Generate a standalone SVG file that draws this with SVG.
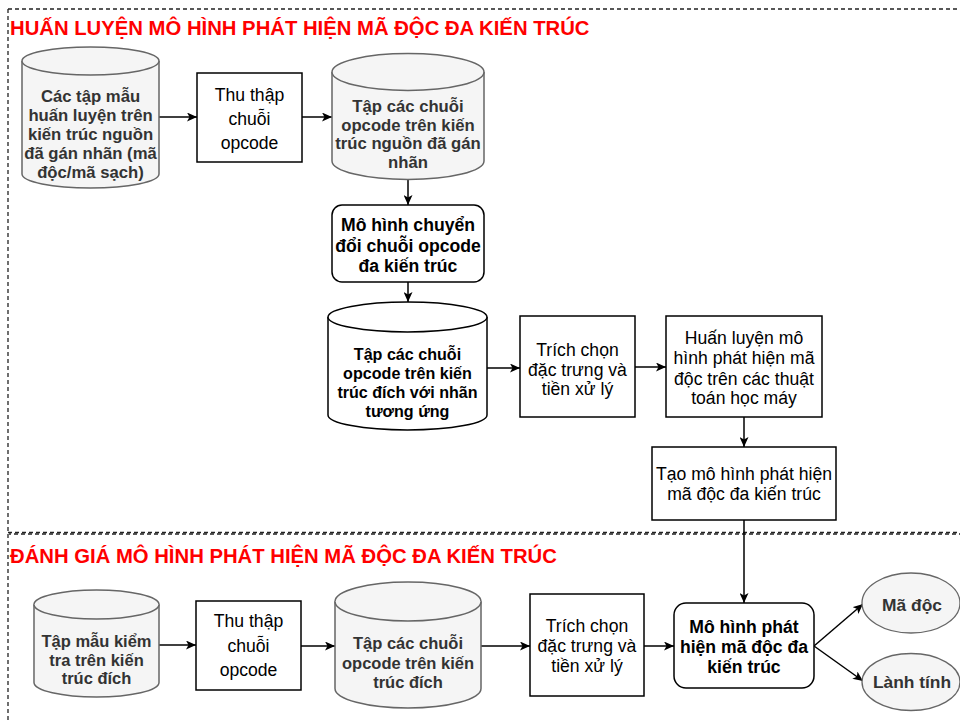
<svg xmlns="http://www.w3.org/2000/svg" width="960" height="722" viewBox="0 0 960 722">
<defs>
<style>
text{font-family:"Liberation Sans",Arial,"Noto Sans",sans-serif;text-anchor:middle}
.t{font-size:17.6px;fill:#000}
.b{font-weight:bold;fill:#000}
.g{font-weight:bold;fill:#333333}
.title{font-size:20.3px;font-weight:bold;fill:#ff0000;text-anchor:start}
.box{fill:#ffffff;stroke:#000;stroke-width:1.5}
.cyl{fill:#f5f5f5;stroke:#666666;stroke-width:1.5}
.cylw{fill:#ffffff;stroke:#000;stroke-width:1.5}
.ell{fill:#f5f5f5;stroke:#666666;stroke-width:1.3}
.frame{fill:none;stroke:#222;stroke-width:1.3;stroke-dasharray:4 3}
.c{fill:none;stroke:#000;stroke-width:1.5;marker-end:url(#arr)}
</style>
<marker id="arr" markerWidth="11" markerHeight="9" refX="10" refY="4.5" orient="auto" markerUnits="userSpaceOnUse">
<path d="M0,0 L10,4.5 L0,9 L2.5,4.5 Z" fill="#000"/>
</marker>
</defs>

<g id="frame">
<line class="frame" x1="8" y1="9" x2="960" y2="9"/>
<line class="frame" x1="8" y1="9" x2="8" y2="722"/>
<line class="frame" x1="8" y1="532.5" x2="960" y2="532.5"/>
<line class="frame" x1="9" y1="534" x2="960" y2="534" style="stroke-dashoffset:2"/>
</g>

<g id="title-train"><text class="title" x="10" y="35">HUẤN LUYỆN MÔ HÌNH PHÁT HIỆN MÃ ĐỘC ĐA KIẾN TRÚC</text></g>
<g id="title-eval"><text class="title" x="10" y="563">ĐÁNH GIÁ MÔ HÌNH PHÁT HIỆN MÃ ĐỘC ĐA KIẾN TRÚC</text></g>

<g id="connectors">
<line class="c" x1="159" y1="117" x2="197" y2="117"/>
<line class="c" x1="302" y1="117" x2="332" y2="117"/>
<line class="c" x1="408" y1="180" x2="408" y2="205"/>
<line class="c" x1="408" y1="282" x2="408" y2="302"/>
<line class="c" x1="487" y1="368" x2="520" y2="368"/>
<line class="c" x1="635" y1="367" x2="666" y2="367"/>
<line class="c" x1="744" y1="417" x2="744" y2="447"/>
<line class="c" x1="744" y1="520" x2="744" y2="603"/>
<line class="c" x1="159" y1="645" x2="196" y2="645"/>
<line class="c" x1="301" y1="646" x2="335" y2="646"/>
<line class="c" x1="481" y1="646" x2="530" y2="646"/>
<line class="c" x1="644" y1="646" x2="674" y2="646"/>
<line class="c" x1="814" y1="646" x2="863" y2="604"/>
<line class="c" x1="814" y1="646" x2="863" y2="681"/>
</g>

<g id="train-samples">
<path class="cyl" d="M22,61 A68.5,14 0 0 1 159,61 L159,174 A68.5,14 0 0 1 22,174 Z"/>
<path class="cyl" d="M22,61 A68.5,14 0 0 0 159,61" fill="none"/>
<text class="g" font-size="16.7" x="90.5" y="102">Các tập mẫu</text>
<text class="g" font-size="16.7" x="90.5" y="121">huấn luyện trên</text>
<text class="g" font-size="16.7" x="90.5" y="140">kiến trúc nguồn</text>
<text class="g" font-size="16.7" x="90.5" y="159">đã gán nhãn (mã</text>
<text class="g" font-size="16.7" x="90.5" y="178">độc/mã sạch)</text>
</g>

<g id="collect-train">
<rect class="box" x="197" y="73" width="105" height="89"/>
<text class="t" x="249.5" y="101">Thu thập</text>
<text class="t" x="249.5" y="125">chuỗi</text>
<text class="t" x="249.5" y="149">opcode</text>
</g>

<g id="source-opcodes">
<path class="cyl" d="M332,72 A76,18.5 0 0 1 484,72 L484,161 A76,18.5 0 0 1 332,161 Z"/>
<path class="cyl" d="M332,72 A76,18.5 0 0 0 484,72" fill="none"/>
<text class="g" font-size="16.7" x="408" y="112">Tập các chuỗi</text>
<text class="g" font-size="16.7" x="408" y="130.5">opcode trên kiến</text>
<text class="g" font-size="16.7" x="408" y="149">trúc nguồn đã gán</text>
<text class="g" font-size="16.7" x="408" y="167.5">nhãn</text>
</g>

<g id="translate-model">
<rect class="box" x="332" y="205" width="152" height="77" rx="10"/>
<text class="b" font-size="17.6" x="408" y="231">Mô hình chuyển</text>
<text class="b" font-size="17.6" x="408" y="251.5">đổi chuỗi opcode</text>
<text class="b" font-size="17.6" x="408" y="272">đa kiến trúc</text>
</g>

<g id="target-opcodes">
<path class="cylw" d="M328,317 A79.5,15 0 0 1 487,317 L487,415 A79.5,15 0 0 1 328,415 Z"/>
<path class="cylw" d="M328,317 A79.5,15 0 0 0 487,317" fill="none"/>
<text class="b" font-size="16.1" x="407.5" y="360">Tập các chuỗi</text>
<text class="b" font-size="16.1" x="407.5" y="379">opcode trên kiến</text>
<text class="b" font-size="16.1" x="407.5" y="398">trúc đích với nhãn</text>
<text class="b" font-size="16.1" x="407.5" y="417">tương ứng</text>
</g>

<g id="feature-train">
<rect class="box" x="520" y="316" width="115" height="101"/>
<text class="t" x="577.5" y="356">Trích chọn</text>
<text class="t" x="577.5" y="375.5">đặc trưng và</text>
<text class="t" x="577.5" y="395">tiền xử lý</text>
</g>

<g id="train-ml">
<rect class="box" x="666" y="316" width="156" height="101"/>
<text class="t" x="744" y="344">Huấn luyện mô</text>
<text class="t" x="744" y="364">hình phát hiện mã</text>
<text class="t" x="744" y="384.5">độc trên các thuật</text>
<text class="t" x="744" y="404">toán học máy</text>
</g>

<g id="create-model">
<rect class="box" x="652" y="447" width="184" height="73"/>
<text class="t" x="744" y="480">Tạo mô hình phát hiện</text>
<text class="t" x="744" y="500">mã độc đa kiến trúc</text>
</g>

<g id="test-samples">
<path class="cyl" d="M34,604.5 A62.5,14.5 0 0 1 159,604.5 L159,682.5 A62.5,14.5 0 0 1 34,682.5 Z"/>
<path class="cyl" d="M34,604.5 A62.5,14.5 0 0 0 159,604.5" fill="none"/>
<text class="g" font-size="16.5" x="96.5" y="647">Tập mẫu kiểm</text>
<text class="g" font-size="16.5" x="96.5" y="665.5">tra trên kiến</text>
<text class="g" font-size="16.5" x="96.5" y="684">trúc đích</text>
</g>

<g id="collect-eval">
<rect class="box" x="196" y="601" width="105" height="89"/>
<text class="t" x="248.5" y="627">Thu thập</text>
<text class="t" x="248.5" y="652">chuỗi</text>
<text class="t" x="248.5" y="676">opcode</text>
</g>

<g id="eval-opcodes">
<path class="cyl" d="M335,601.5 A73,19.5 0 0 1 481,601.5 L481,688.5 A73,19.5 0 0 1 335,688.5 Z"/>
<path class="cyl" d="M335,601.5 A73,19.5 0 0 0 481,601.5" fill="none"/>
<text class="g" font-size="16.5" x="408" y="649">Tập các chuỗi</text>
<text class="g" font-size="16.5" x="408" y="668.5">opcode trên kiến</text>
<text class="g" font-size="16.5" x="408" y="688">trúc đích</text>
</g>

<g id="feature-eval">
<rect class="box" x="530" y="594" width="114" height="102"/>
<text class="t" x="587" y="632">Trích chọn</text>
<text class="t" x="587" y="652">đặc trưng và</text>
<text class="t" x="587" y="672">tiền xử lý</text>
</g>

<g id="detect-model">
<rect class="box" x="674" y="603" width="140" height="85" rx="12"/>
<text class="b" font-size="17.6" x="744" y="633">Mô hình phát</text>
<text class="b" font-size="17.6" x="744" y="653">hiện mã độc đa</text>
<text class="b" font-size="17.6" x="744" y="673">kiến trúc</text>
</g>

<g id="malware">
<ellipse class="ell" cx="911" cy="603" rx="49" ry="30"/>
<text class="g" font-size="17.4" x="912" y="611">Mã độc</text>
</g>

<g id="benign">
<ellipse class="ell" cx="911" cy="682" rx="49" ry="28.5"/>
<text class="g" font-size="17.4" x="912" y="688">Lành tính</text>
</g>
</svg>
